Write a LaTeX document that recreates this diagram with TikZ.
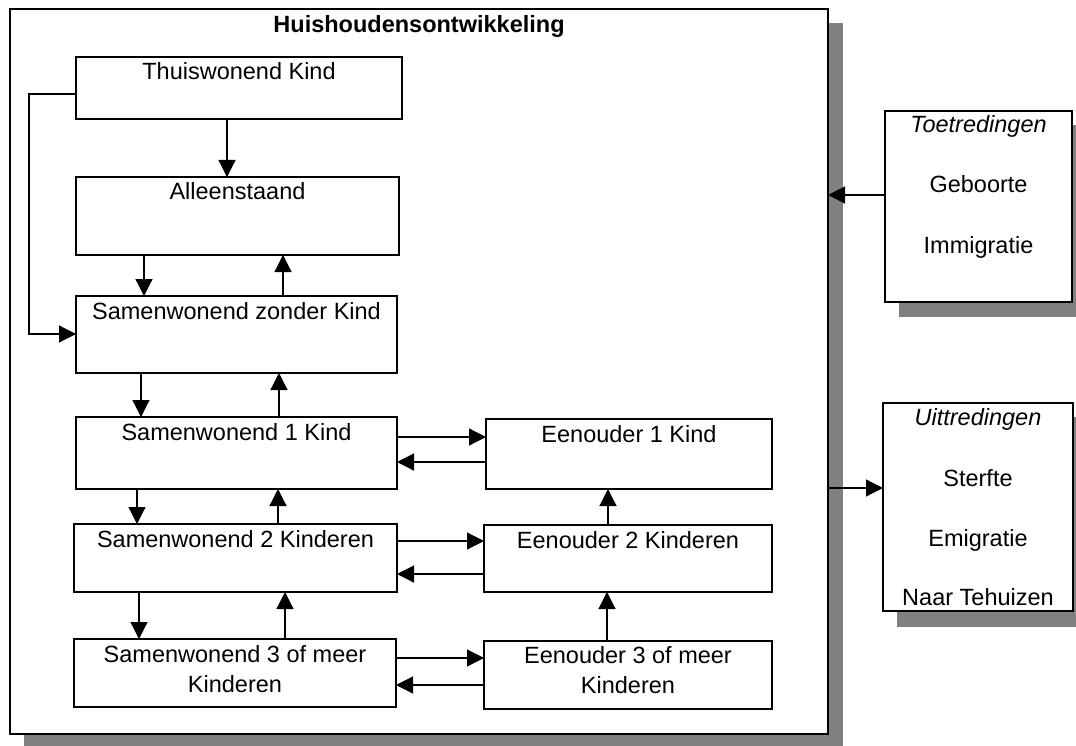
\documentclass[tikz,border=0pt]{standalone}
\usepackage{fontspec}
\setmainfont{Liberation Sans}
\usetikzlibrary{arrows.meta}
\definecolor{shadowgray}{RGB}{128,128,128}
\begin{document}
\begin{tikzpicture}[x=1pt,y=-1pt,
  box/.style={draw=black,line width=1.5pt,fill=white,rectangle,outer sep=0pt,inner sep=0pt,anchor=north west},
  lbl/.style={anchor=base,inner sep=0pt,font=\fontsize{23.5}{28}\selectfont},
  shade/.style={fill=shadowgray,draw=none},
  arr/.style={line width=1.2pt,-{Triangle[length=17pt,width=17pt]}},
  conn/.style={line width=1.2pt}]
\useasboundingbox (0,0) rectangle (1076,746);
\clip (0,0) rectangle (1076,746);

% drop shadows
\fill[shade] (24,23) rectangle (843,760);
\fill[shade] (899,125) rectangle (1090,317);
\fill[shade] (897,417) rectangle (1090,627);

% outer frame
\node[box,minimum width=818pt,minimum height=725pt] (main) at (10,9) {};
\node[lbl,font=\fontsize{23.5}{28}\selectfont\bfseries] (title) at (419,33) {Huishoudensontwikkeling};

% household states
\node[box,minimum width=326pt,minimum height=62pt] (tk) at (76,57) {};
\node[lbl] (tkt) at (239,80) {Thuiswonend Kind};
\node[box,minimum width=323pt,minimum height=78pt] (al) at (76,177) {};
\node[lbl] (alt) at (237.5,200) {Alleenstaand};
\node[box,minimum width=321pt,minimum height=77pt] (sz) at (76,296) {};
\node[lbl] (szt) at (236.5,319) {Samenwonend zonder Kind};
\node[box,minimum width=321pt,minimum height=72pt] (s1) at (76,417) {};
\node[lbl] (s1t) at (236.5,440) {Samenwonend 1 Kind};
\node[box,minimum width=323pt,minimum height=68pt] (s2) at (74,524) {};
\node[lbl] (s2t) at (235.5,547) {Samenwonend 2 Kinderen};
\node[box,minimum width=322pt,minimum height=68pt] (s3) at (74,639) {};
\node[lbl] (s3a) at (235,662) {Samenwonend 3 of meer};
\node[lbl] (s3b) at (235,692) {Kinderen};

\node[box,minimum width=286pt,minimum height=70pt] (e1) at (486,419) {};
\node[lbl] (e1t) at (629,442) {Eenouder 1 Kind};
\node[box,minimum width=288pt,minimum height=67pt] (e2) at (484,525) {};
\node[lbl] (e2t) at (628,548) {Eenouder 2 Kinderen};
\node[box,minimum width=288pt,minimum height=68pt] (e3) at (484,641) {};
\node[lbl] (e3a) at (628,663) {Eenouder 3 of meer};
\node[lbl] (e3b) at (628,693) {Kinderen};

% inflow and outflow
\node[box,minimum width=187pt,minimum height=191pt] (in) at (885,111) {};
\node[lbl,font=\fontsize{23.5}{28}\selectfont\itshape] (int) at (978.5,133) {Toetredingen};
\node[lbl] (in1) at (978.5,193) {Geboorte};
\node[lbl] (in2) at (978.5,253) {Immigratie};
\node[box,minimum width=190pt,minimum height=208pt] (out) at (883,403) {};
\node[lbl,font=\fontsize{23.5}{28}\selectfont\itshape] (outt) at (978,425) {Uittredingen};
\node[lbl] (out1) at (978,486) {Sterfte};
\node[lbl] (out2) at (978,546) {Emigratie};
\node[lbl] (out3) at (978,605) {Naar Tehuizen};

% vertical transitions
\draw[arr] (tk.south -| 227,0) -- (al.north -| 227,0);
\draw[arr] (al.south -| 144,0) -- (sz.north -| 144,0);
\draw[arr] (sz.north -| 283,0) -- (al.south -| 283,0);
\draw[arr] (sz.south -| 141,0) -- (s1.north -| 141,0);
\draw[arr] (s1.north -| 279,0) -- (sz.south -| 279,0);
\draw[arr] (s1.south -| 137,0) -- (s2.north -| 137,0);
\draw[arr] (s2.north -| 278,0) -- (s1.south -| 278,0);
\draw[arr] (s2.south -| 139,0) -- (s3.north -| 139,0);
\draw[arr] (s3.north -| 285,0) -- (s2.south -| 285,0);
\draw[arr] (e2.north -| 608,0) -- (e1.south -| 608,0);
\draw[arr] (e3.north -| 607,0) -- (e2.south -| 607,0);

% bypass from Thuiswonend Kind to Samenwonend zonder Kind
\coordinate (bend1) at (29,94);
\coordinate (bend2) at (29,334);
\draw[arr] (tk.west |- bend1) -- (bend1) -- (bend2) -- (sz.west |- bend2);

% horizontal transitions
\draw[arr] (s1.east |- 0,437) -- (e1.west |- 0,437);
\draw[arr] (e1.west |- 0,462) -- (s1.east |- 0,462);
\draw[arr] (s2.east |- 0,541) -- (e2.west |- 0,541);
\draw[arr] (e2.west |- 0,574) -- (s2.east |- 0,574);
\draw[arr] (s3.east |- 0,658) -- (e3.west |- 0,658);
\draw[arr] (e3.west |- 0,685) -- (s3.east |- 0,685);

% flows into and out of the frame
\draw[arr] (in.west |- 0,195) -- (main.east |- 0,195);
\draw[arr] (main.east |- 0,488) -- (out.west |- 0,488);
\end{tikzpicture}
\end{document}
